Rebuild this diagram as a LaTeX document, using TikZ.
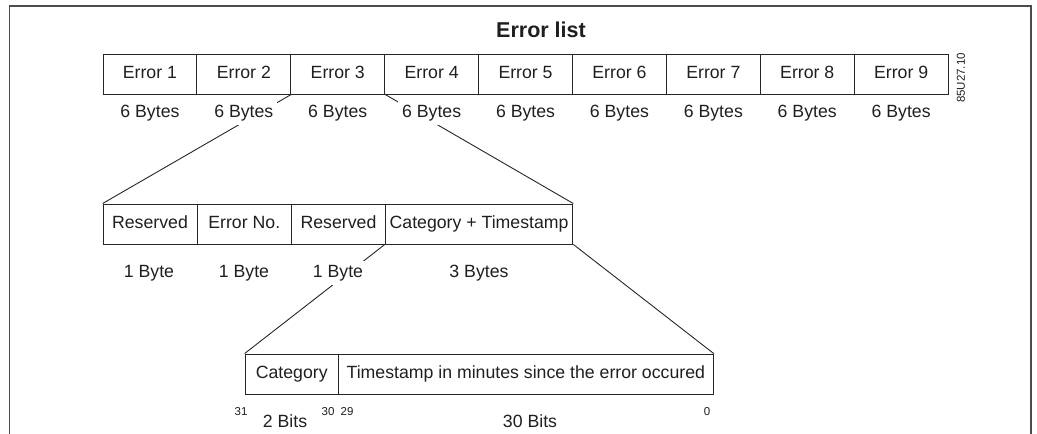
\documentclass[tikz,border=0pt]{standalone}
\usepackage{fontspec}
\setmainfont{Liberation Sans}
\begin{document}
\begin{tikzpicture}[x=1pt,y=-1pt,
  txt/.style={font=\fontsize{17.7}{20}\selectfont, text=black!88},
  cell/.style={txt, draw=black!85, line width=0.9pt, minimum height=40pt, inner sep=0pt, anchor=center, text height=12.5pt, text depth=3.5pt},
  lab/.style={txt, fill=white, inner sep=4pt, text height=12.5pt, text depth=3.5pt},
  bitno/.style={font=\fontsize{11.5}{13}\selectfont, text=black!88, inner sep=0pt},
  conn/.style={draw=black!85, line width=0.9pt}]
\useasboundingbox (0,0) rectangle (1037,434);
% frame
\draw[black!70, line width=1.8pt] (9.5,440) -- (9.5,6) -- (1031,6) -- (1031,440);
% title
\node[font=\fontsize{21.5}{24}\selectfont\bfseries, text=black!88] (title) at (541,30) {Error list};
% top row
\foreach \i in {1,...,9}{
  \node[cell, minimum width=93.9pt] (e\i) at ({103+93.9*(\i-0.5)},74) {Error \i};
}
\node[font=\fontsize{11.5}{13}\selectfont, text=black!88, rotate=90, inner sep=0pt] (code) at (961,78) {85U27.10};
% second row
\node[cell, minimum width=94pt] (r1) at (150,224) {Reserved};
\node[cell, minimum width=94.3pt] (en) at (244.3,224) {Error No.};
\node[cell, minimum width=93.6pt] (r2) at (338.5,224) {Reserved};
\node[cell, minimum width=187.6pt] (ct) at (479.1,224) {Category + Timestamp};
% third row
\node[cell, minimum width=93.3pt] (cat) at (291.7,374) {Category};
\node[cell, minimum width=375pt] (ts) at (525.8,374) {Timestamp in minutes since the error occured};
% connectors
\draw[conn] (e2.south east) -- (r1.north west);
\draw[conn] (e3.south east) -- (ct.north east);
\draw[conn] (ct.south west) -- (cat.north west);
\draw[conn] (ct.south east) -- (ts.north east);
% byte labels
\foreach \i in {1,...,9}{
  \node[lab] (b\i) at ({103+93.9*(\i-0.5)},113) {6 Bytes};
}
\node[lab] (l1) at (149,273) {1 Byte};
\node[lab] (l2) at (244,273) {1 Byte};
\node[lab] (l3) at (338,273) {1 Byte};
\node[lab] (l4) at (479,273) {3 Bytes};
\node[lab] (l5) at (285,423) {2 Bits};
\node[lab] (l6) at (530,423) {30 Bits};
% bit numbers
\node[bitno] (n31) at (241,412) {31};
\node[bitno] (n30) at (328,412) {30};
\node[bitno] (n29) at (347,412) {29};
\node[bitno] (n0) at (707,412) {0};
\end{tikzpicture}
\end{document}
